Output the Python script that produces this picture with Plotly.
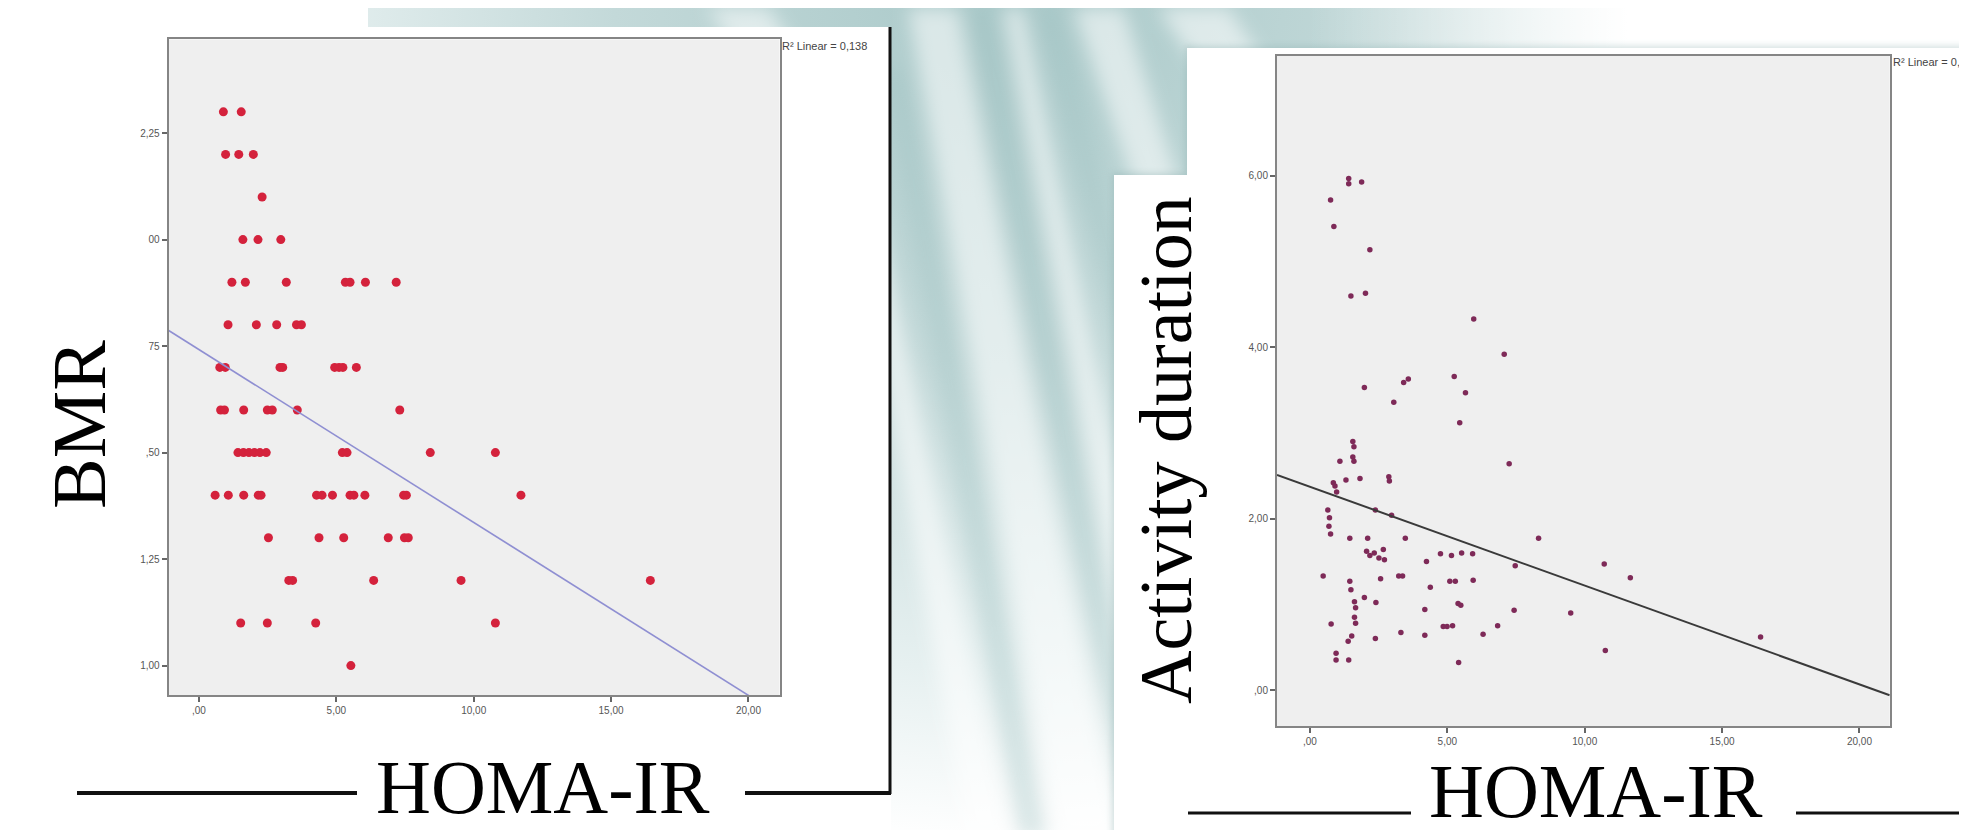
import base64
import plotly.graph_objects as go

W, H = 1967, 830

# ---------------- Data: left chart (BMR vs HOMA-IR) ----------------
bmr_homa = [
    0.89, 1.54,
    0.97, 1.45, 1.98,
    2.30,
    1.60, 2.15, 2.98,
    1.20, 1.69, 3.18, 5.33, 5.50, 6.06, 7.18,
    1.06, 2.09, 2.83, 3.55, 3.73,
    0.76, 0.96, 2.95, 3.05, 4.94, 5.10, 5.24, 5.73,
    0.79, 0.93, 1.63, 2.49, 2.67, 3.58, 7.31,
    1.42, 1.62, 1.82, 2.02, 2.22, 2.45, 5.22, 5.39, 8.42, 10.79,
    0.59, 1.07, 1.63, 2.16, 2.26, 4.28, 4.48, 4.86, 5.50, 5.64, 6.04, 7.45, 7.55, 11.72,
    2.53, 4.37, 5.27, 6.89, 7.48, 7.62,
    3.27, 3.41, 6.36, 9.54, 16.43,
    1.52, 2.49, 4.25, 10.79,
    5.53,
]
bmr_vals = (
    [2.30] * 2 + [2.20] * 3 + [2.10] * 1 + [2.00] * 3 + [1.90] * 7 + [1.80] * 5
    + [1.70] * 8 + [1.60] * 7 + [1.50] * 10 + [1.40] * 14 + [1.30] * 6
    + [1.20] * 5 + [1.10] * 4 + [1.00] * 1
)
bmr_fit_intercept = 1.742
bmr_fit_slope = -0.0406
bmr_r2_text = "R² Linear = 0,138"

# ---------------- Data: right chart (Activity duration vs HOMA-IR) ----------------
act_homa = [
    0.75, 0.87, 1.41, 1.41, 1.88, 2.18, 1.49, 2.02, 5.96, 7.07,
    1.98, 3.05, 3.41, 3.58, 5.25, 5.66, 5.45, 7.25, 1.56, 1.60,
    1.56, 1.60, 1.09, 1.31, 1.82, 0.85, 0.91, 0.97, 2.87, 2.89,
    2.38, 2.97, 0.65, 0.71, 0.69, 0.75, 1.45, 2.10, 3.47, 8.32,
    2.06, 2.18, 2.34, 2.51, 2.67, 2.71, 4.75, 5.15, 5.52, 5.92,
    4.24, 7.47, 10.71, 0.48, 2.57, 3.23, 3.37, 5.09, 5.29, 5.94,
    11.66, 1.45, 1.49, 4.38, 1.62, 1.66, 1.62, 1.66, 1.98, 2.40,
    5.39, 5.49, 4.18, 7.43, 9.49, 0.77, 4.85, 4.99, 5.19, 6.83,
    3.31, 4.18, 6.30, 1.52, 1.39, 2.38, 16.40, 10.75, 0.95, 0.95,
    1.41, 5.41,
]
act_vals = [
    5.72, 5.41, 5.97, 5.91, 5.93, 5.14, 4.60, 4.63, 4.33, 3.92,
    3.53, 3.36, 3.59, 3.63, 3.66, 3.47, 3.12, 2.64, 2.90, 2.84,
    2.72, 2.67, 2.67, 2.45, 2.47, 2.42, 2.38, 2.31, 2.49, 2.44,
    2.10, 2.04, 2.10, 2.01, 1.91, 1.82, 1.77, 1.77, 1.77, 1.77,
    1.62, 1.57, 1.60, 1.54, 1.64, 1.52, 1.59, 1.57, 1.60, 1.59,
    1.50, 1.45, 1.47, 1.33, 1.30, 1.33, 1.33, 1.27, 1.27, 1.28,
    1.31, 1.27, 1.17, 1.20, 1.03, 0.96, 0.85, 0.78, 1.08, 1.02,
    1.01, 0.99, 0.94, 0.93, 0.90, 0.77, 0.74, 0.74, 0.75, 0.75,
    0.67, 0.64, 0.65, 0.63, 0.57, 0.60, 0.62, 0.46, 0.43, 0.35,
    0.35, 0.32,
]
act_fit_intercept = 2.372
act_fit_slope = -0.1153
act_r2_text = "R² Linear = 0,"   # clipped at the slide edge in the original

# Axis ranges and tick labels
left_xrange = [-1.10, 21.13]
left_yrange = [0.93, 2.47]
right_xrange = [-1.20, 21.10]
right_yrange = [-0.42, 7.40]
x_tickvals = [0, 5, 10, 15, 20]
x_ticktext = [",00", "5,00", "10,00", "15,00", "20,00"]
left_tickvals = [1.00, 1.25, 1.50, 1.75, 2.00, 2.25]
left_ticktext = ["1,00", "1,25", ",50", "75", "00", "2,25"]
right_tickvals = [0, 2, 4, 6]
right_ticktext = [",00", "2,00", "4,00", "6,00"]


def fx(p):
    return p / W


def fy(p):
    return 1 - p / H


# ---------------- Slide background (decorative SVG) ----------------
def poly(pts, fill, op):
    s = " ".join(f"{a},{b}" for a, b in pts)
    return f'<polygon points="{s}" fill="{fill}" opacity="{op}"/>'


white_streaks = [
    [(900, 0), (950, 0), (1110, 830), (1050, 830)],
    [(995, 0), (1015, 0), (1185, 830), (1155, 830)],
    [(845, 200), (870, 200), (1000, 830), (960, 830)],
    [(1065, 0), (1115, 0), (1210, 300), (1210, 420)],
    [(700, 0), (760, 0), (800, 60), (740, 60)],
    [(1150, 0), (1220, 0), (1260, 60), (1190, 60)],
]
dark_streaks = [
    [(960, 0), (985, 0), (1150, 830), (1120, 830)],
    [(875, 60), (895, 60), (1040, 830), (1010, 830)],
    [(1030, 0), (1050, 0), (1200, 600), (1200, 700)],
]
svg = [
    f'<svg xmlns="http://www.w3.org/2000/svg" width="{W}" height="{H}" viewBox="0 0 {W} {H}">',
    '<defs>',
    '<radialGradient id="g1" cx="1000" cy="-40" r="880" gradientUnits="userSpaceOnUse">',
    '<stop offset="0" stop-color="#a8c8c8"/>',
    '<stop offset="0.45" stop-color="#c3d9d9"/>',
    '<stop offset="0.8" stop-color="#e6f0f0"/>',
    '<stop offset="1" stop-color="#ffffff"/>',
    '</radialGradient>',
    '<linearGradient id="fadeR" x1="1300" y1="0" x2="1620" y2="0" gradientUnits="userSpaceOnUse">',
    '<stop offset="0" stop-color="#ffffff" stop-opacity="0"/>',
    '<stop offset="1" stop-color="#ffffff" stop-opacity="1"/>',
    '</linearGradient>',
    '<filter id="bl" x="-50%" y="-50%" width="200%" height="200%">'
    '<feGaussianBlur stdDeviation="9"/></filter>',
    '<filter id="sh" x="-5%" y="-5%" width="110%" height="110%">'
    '<feGaussianBlur stdDeviation="3"/></filter>',
    '</defs>',
    f'<rect width="{W}" height="{H}" fill="white"/>',
    f'<rect x="0" y="0" width="{W}" height="{H}" fill="url(#g1)"/>',
    '<g filter="url(#bl)">',
]
svg += [poly(p, "white", 0.55) for p in white_streaks]
svg += [poly(p, "#9fc0c0", 0.35) for p in dark_streaks]
svg += [
    '</g>',
    f'<rect x="1300" y="0" width="{W - 1300}" height="60" fill="url(#fadeR)"/>',
    # soft shadows of the pasted panels
    '<g filter="url(#sh)" opacity="0.35">',
    '<rect x="1104" y="165" width="80" height="680" fill="#8aa"/>',
    '<rect x="1177" y="38" width="800" height="800" fill="#8aa"/>',
    '</g>',
    # white panels
    '<rect x="0" y="19" width="883" height="811" fill="white"/>',
    '<rect x="0" y="0" width="360" height="19" fill="white"/>',
    '<rect x="1179" y="40" width="788" height="790" fill="white"/>',
    '<rect x="1106" y="167" width="80" height="663" fill="white"/>',
    '</svg>',
]
bg_uri = "data:image/svg+xml;base64," + base64.b64encode("".join(svg).encode()).decode()

fig = go.Figure()

# Scatter points
fig.add_trace(go.Scatter(
    x=bmr_homa, y=bmr_vals, mode="markers", xaxis="x", yaxis="y",
    marker=dict(size=9, color="#d4223c", line=dict(width=0)), showlegend=False,
))
fig.add_trace(go.Scatter(
    x=act_homa, y=act_vals, mode="markers", xaxis="x2", yaxis="y2",
    marker=dict(size=5.5, color="#7e2a58", line=dict(width=0)), showlegend=False,
))

# Fit lines
lx = left_xrange
fig.add_trace(go.Scatter(
    x=lx, y=[bmr_fit_intercept + bmr_fit_slope * v for v in lx], mode="lines",
    xaxis="x", yaxis="y", line=dict(color="#8f8fd2", width=1.6), showlegend=False,
))
rx = right_xrange
fig.add_trace(go.Scatter(
    x=rx, y=[act_fit_intercept + act_fit_slope * v for v in rx], mode="lines",
    xaxis="x2", yaxis="y2", line=dict(color="#3a3a3a", width=2), showlegend=False,
))

shapes = []
# gray plot areas
shapes.append(dict(type="rect", xref="x domain", yref="y domain", x0=0, x1=1, y0=0, y1=1,
                   fillcolor="#efefef", line=dict(width=0), layer="below"))
shapes.append(dict(type="rect", xref="x2 domain", yref="y2 domain", x0=0, x1=1, y0=0, y1=1,
                   fillcolor="#efefef", line=dict(width=0), layer="below"))

# black frame line of left panel and the HOMA-IR rules
black = "#111111"
shapes.append(dict(type="line", xref="paper", yref="paper", x0=fx(882), x1=fx(882),
                   y0=fy(19), y1=fy(786), line=dict(color=black, width=3)))
shapes.append(dict(type="line", xref="paper", yref="paper", x0=fx(69), x1=fx(349),
                   y0=fy(785), y1=fy(785), line=dict(color=black, width=4)))
shapes.append(dict(type="line", xref="paper", yref="paper", x0=fx(737), x1=fx(883),
                   y0=fy(785), y1=fy(785), line=dict(color=black, width=4)))
shapes.append(dict(type="line", xref="paper", yref="paper", x0=fx(1180), x1=fx(1403),
                   y0=fy(805), y1=fy(805), line=dict(color=black, width=3)))
shapes.append(dict(type="line", xref="paper", yref="paper", x0=fx(1788), x1=fx(1967),
                   y0=fy(805), y1=fy(805), line=dict(color=black, width=3)))

serif = "Liberation Serif, Times New Roman, serif"
annotations = [
    dict(text="BMR", x=fx(71), y=fy(417), xref="paper", yref="paper", showarrow=False,
         textangle=-90, font=dict(family=serif, size=76, color="black"),
         xanchor="center", yanchor="middle"),
    dict(text="Activity duration", x=fx(1158), y=fy(442), xref="paper", yref="paper",
         showarrow=False, textangle=-90, font=dict(family=serif, size=74, color="black"),
         xanchor="center", yanchor="middle"),
    dict(text="HOMA-IR", x=fx(535), y=fy(779), xref="paper", yref="paper", showarrow=False,
         font=dict(family=serif, size=76, color="black"), xanchor="center", yanchor="middle"),
    dict(text="HOMA-IR", x=fx(1588), y=fy(783), xref="paper", yref="paper", showarrow=False,
         font=dict(family=serif, size=76, color="black"), xanchor="center", yanchor="middle"),
    dict(text=bmr_r2_text, x=fx(772), y=fy(38), xref="paper", yref="paper", showarrow=False,
         font=dict(family="Liberation Sans, Arial", size=11, color="#444"),
         xanchor="left", yanchor="middle"),
    dict(text=act_r2_text, x=fx(1883), y=fy(54), xref="paper", yref="paper", showarrow=False,
         font=dict(family="Liberation Sans, Arial", size=11, color="#444"),
         xanchor="left", yanchor="middle"),
]

axis_common = dict(showgrid=False, zeroline=False, showline=True, mirror=True,
                   linecolor="#858585", linewidth=2, ticks="outside", ticklen=5,
                   tickcolor="#666", tickwidth=1.5,
                   tickfont=dict(family="Liberation Sans, Arial", size=10, color="#555"))

fig.update_layout(
    width=W, height=H, margin=dict(l=0, r=0, t=0, b=0),
    paper_bgcolor="white", plot_bgcolor="rgba(0,0,0,0)",
    images=[dict(source=bg_uri, xref="paper", yref="paper", x=0, y=1, sizex=1, sizey=1,
                 xanchor="left", yanchor="top", sizing="stretch", layer="below")],
    xaxis=dict(domain=[fx(160.7), fx(771.5)], range=left_xrange, tickvals=x_tickvals,
               ticktext=x_ticktext, anchor="y", **axis_common),
    yaxis=dict(domain=[fy(687.4), fy(31.4)], range=left_yrange, tickvals=left_tickvals,
               ticktext=left_ticktext, anchor="x", **axis_common),
    xaxis2=dict(domain=[fx(1269), fx(1881.7)], range=right_xrange, tickvals=x_tickvals,
                ticktext=x_ticktext, anchor="y2", **axis_common),
    yaxis2=dict(domain=[fy(718), fy(48)], range=right_yrange, tickvals=right_tickvals,
                ticktext=right_ticktext, anchor="x2", **axis_common),
    shapes=shapes, annotations=annotations, showlegend=False,
)

fig.write_html("out.html")
